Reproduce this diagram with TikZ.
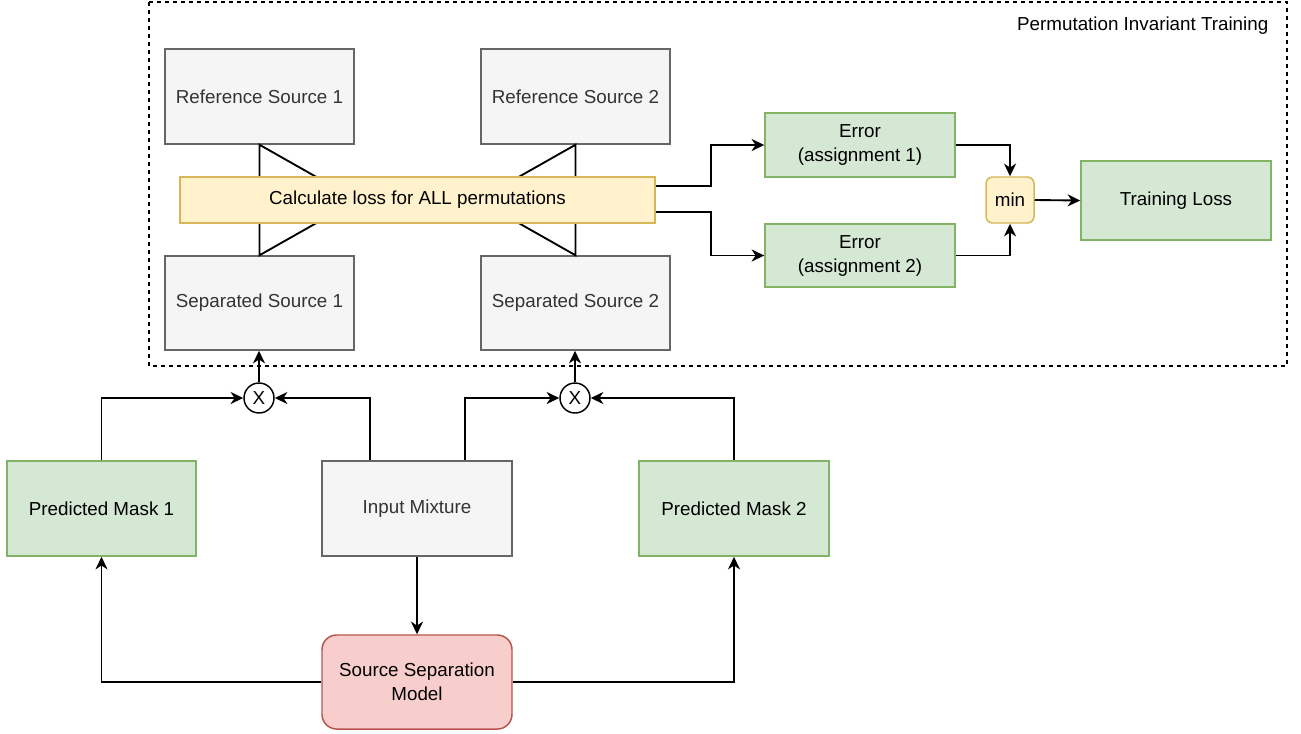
\documentclass[tikz,border=0pt]{standalone}
\usepackage{fontspec}
\setmainfont{Liberation Sans}
\usetikzlibrary{arrows.meta,positioning}

\definecolor{grayfill}{HTML}{F5F5F5}
\definecolor{graydraw}{HTML}{666666}
\definecolor{graytext}{HTML}{333333}
\definecolor{greenfill}{HTML}{D5E8D4}
\definecolor{greendraw}{HTML}{82B366}
\definecolor{yellowfill}{HTML}{FFF2CC}
\definecolor{yellowdraw}{HTML}{D6B656}
\definecolor{redfill}{HTML}{F8CECC}
\definecolor{reddraw}{HTML}{B85450}

\tikzset{
  box/.style={rectangle, line width=1.1pt, align=center, inner sep=2pt,
    font=\fontsize{14.1}{18}\selectfont},
  graybox/.style={box, fill=grayfill, draw=graydraw, text=graytext,
    minimum width=141.75pt, minimum height=71.25pt},
  greenbox/.style={box, fill=greenfill, draw=greendraw, text=black},
  yellowbox/.style={box, fill=yellowfill, draw=yellowdraw, text=black},
  redbox/.style={box, fill=redfill, draw=reddraw, text=black, rounded corners=11pt},
  mult/.style={circle, draw=black, fill=white, line width=1.1pt, minimum size=22.5pt,
    inner sep=0pt, font=\fontsize{14.1}{18}\selectfont},
  arr/.style={line width=1.4pt, -{Stealth[length=9.5pt, width=9pt, inset=3pt]}},
  tri/.style={line width=1.4pt, line join=miter},
}

\begin{document}
\begin{tikzpicture}[x=0.75pt, y=-0.75pt]
  \useasboundingbox (0,0) rectangle (1301,733);

  % training frame
  \draw[dashed, dash pattern=on 3pt off 3pt, line width=1pt] (149,2) rectangle (1287,366);
  \node[anchor=east, font=\fontsize{14.1}{18}\selectfont] (pitlabel) at (1273,26) {Permutation Invariant Training};

  % reference and separated sources
  \node[graybox] (ref1) at (259.5,96.5) {Reference Source 1};
  \node[graybox] (ref2) at (575.5,96.5) {Reference Source 2};
  \node[graybox, minimum height=70.5pt] (sep1) at (259.5,303) {Separated Source 1};
  \node[graybox, minimum height=70.5pt] (sep2) at (575.5,303) {Separated Source 2};

  % pairing triangles behind the loss bar
  \coordinate (apex1) at (357,200);
  \coordinate (apex2) at (478,200);
  \draw[tri] (ref1.south) -- (sep1.north) -- (apex1) -- cycle;
  \draw[tri] (ref2.south) -- (sep2.north) -- (apex2) -- cycle;

  \node[yellowbox, minimum width=356.25pt, minimum height=34.5pt] (bar) at (417.5,200)
    {Calculate loss for ALL permutations};

  % error, min and loss
  \node[greenbox, minimum width=142.5pt, minimum height=48pt] (err1) at (860,145) {Error\\(assignment 1)};
  \node[greenbox, minimum width=142.5pt, minimum height=47.25pt] (err2) at (860,255.5) {Error\\(assignment 2)};
  \node[yellowbox, rounded corners=5pt, minimum width=36pt, minimum height=34.5pt] (min) at (1010,200) {min};
  \node[greenbox, minimum width=142.5pt, minimum height=59.25pt] (loss) at (1176,200.5) {Training Loss};

  \draw[arr] ([yshift=10.5pt]bar.east) -- ++(55,0) |- (err1.west);
  \draw[arr] ([yshift=-9pt]bar.east) -- ++(55,0) |- (err2.west);
  \draw[arr] (err1.east) -| (min.north);
  \draw[arr] (err2.east) -| (min.south);
  \draw[arr] (min.east) -- (loss.west);

  % masking stage
  \node[mult] (c1) at (259,398) {X};
  \node[mult] (c2) at (575,398) {X};
  \node[greenbox, minimum width=141.75pt, minimum height=71.25pt] (mask1) at (101.5,508.5) {Predicted Mask 1};
  \node[graybox, minimum width=142.5pt] (mix) at (417,508.5) {Input Mixture};
  \node[greenbox, minimum width=142.5pt, minimum height=71.25pt] (mask2) at (734,508.5) {Predicted Mask 2};
  \node[redbox, minimum width=142.5pt, minimum height=70.5pt] (model) at (417,682) {Source Separation\\Model};

  \draw[arr] (c1.north) -- (c1.north |- sep1.south);
  \draw[arr] (c2.north) -- (c2.north |- sep2.south);
  \draw[arr] (mask1.north) |- (c1.west);
  \draw[arr] ([xshift=-35.25pt]mix.north) |- (c1.east);
  \draw[arr] ([xshift=36pt]mix.north) |- (c2.west);
  \draw[arr] (mask2.north) |- (c2.east);
  \draw[arr] (mix.south) -- (model.north);
  \draw[arr] (model.west) -| (mask1.south);
  \draw[arr] (model.east) -| (mask2.south);
\end{tikzpicture}
\end{document}
